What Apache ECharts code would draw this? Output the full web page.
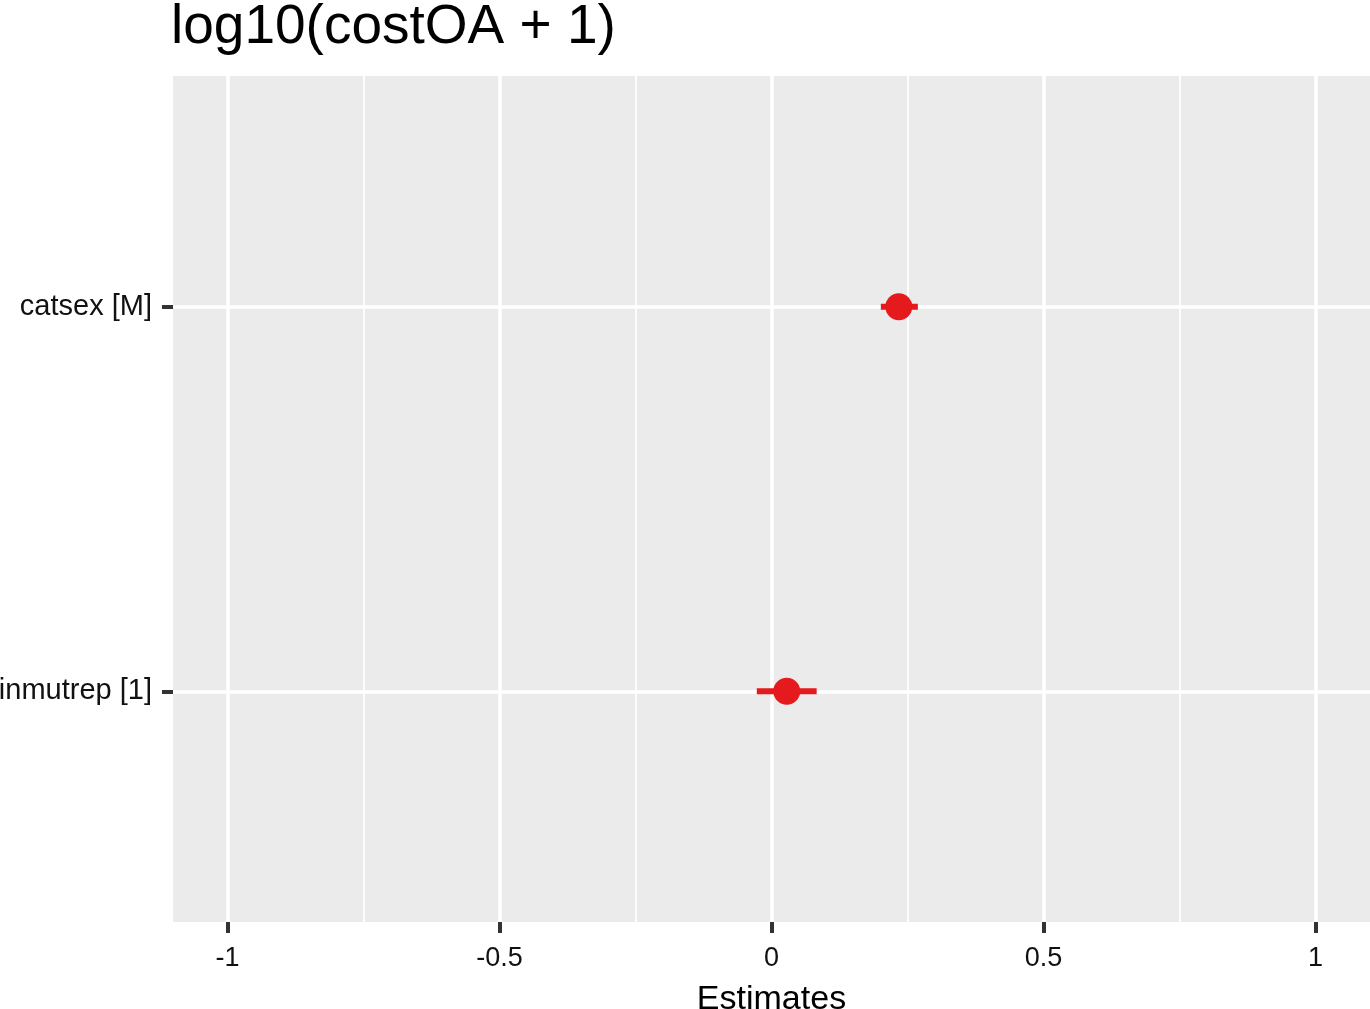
<!DOCTYPE html>
<html>
<head>
<meta charset="utf-8">
<script src="https://cdn.jsdelivr.net/npm/echarts@6/dist/echarts.min.js"></script>
<style>
html,body{margin:0;padding:0;background:#fff;}
#chart{width:1370px;height:1009px;}
</style>
</head>
<body>
<div id="chart"></div>
<script>
const titleText = 'log10(costOA + 1)';
const categories = ['catsex [M]', 'inmutrep [1]'];
const estimates = [0.234, 0.028];
const ciLow = [0.201, -0.027];
const ciHigh = [0.269, 0.083];
const xTicks = [-1, -0.5, 0, 0.5, 1];
const xTickLabels = ['-1', '-0.5', '0', '0.5', '1'];
const xTitle = 'Estimates';

const n = categories.length;
const yPos = categories.map((c, i) => n - i);
const pointData = categories.map((c, i) => [estimates[i], yPos[i]]);
const ciData = categories.map((c, i) => [ciLow[i], ciHigh[i], yPos[i]]);
const FONT = '"Liberation Sans", Arial, Helvetica, sans-serif';
const RED = '#E41A1C';

const chart = echarts.init(document.getElementById('chart'), null, {renderer: 'canvas'});
chart.setOption({
  animation: false,
  backgroundColor: '#ffffff',
  title: {
    text: titleText,
    left: 166,
    top: -5,
    textStyle: {fontFamily: FONT, fontSize: 55, fontWeight: 'normal', color: '#000'}
  },
  grid: {left: 173, right: 0, top: 76, bottom: 87, show: true, backgroundColor: '#EBEBEB', borderWidth: 0,
         containLabel: false, outerBoundsMode: 'none'},
  xAxis: {
    type: 'value',
    min: -1.1,
    max: 1.1,
    splitNumber: 5,
    name: xTitle,
    nameLocation: 'middle',
    nameGap: 61,
    nameTextStyle: {fontFamily: FONT, fontSize: 34, color: '#000'},
    axisLine: {show: false, onZero: false},
    axisTick: {show: true, length: 11, customValues: xTicks, lineStyle: {color: '#333333', width: 4}},
    axisLabel: {
      customValues: xTicks,
      margin: 23,
      fontFamily: FONT, fontSize: 27, color: '#111111',
      formatter: v => { const k = xTicks.indexOf(v); return k >= 0 ? xTickLabels[k] : ''; }
    },
    splitLine: {show: true, lineStyle: {color: '#ffffff', width: 3.5}},
    minorTick: {show: false, splitNumber: 2},
    minorSplitLine: {show: true, lineStyle: {color: '#ffffff', width: 1.8}}
  },
  yAxis: {
    type: 'value',
    min: 0.4,
    max: n + 0.6,
    axisLine: {show: false, onZero: false},
    axisTick: {show: true, length: 11, customValues: yPos, lineStyle: {color: '#333333', width: 4}},
    axisLabel: {
      customValues: yPos,
      margin: 21,
      fontFamily: FONT, fontSize: 29, color: '#111111',
      formatter: v => { const k = yPos.indexOf(v); return k >= 0 ? categories[k] : ''; }
    },
    splitLine: {show: true, lineStyle: {color: '#ffffff', width: 3.5}}
  },
  series: [
    {
      type: 'custom',
      data: ciData,
      encode: {x: [0, 1], y: 2},
      renderItem: (params, api) => {
        const a = api.coord([api.value(0), api.value(2)]);
        const b = api.coord([api.value(1), api.value(2)]);
        return {
          type: 'line',
          shape: {x1: a[0], y1: a[1], x2: b[0], y2: b[1]},
          style: {stroke: RED, lineWidth: 6}
        };
      },
      z: 2
    },
    {
      type: 'scatter',
      data: pointData,
      symbol: 'circle',
      symbolSize: 27,
      itemStyle: {color: RED, opacity: 1},
      z: 3
    }
  ]
});
</script>
</body>
</html>
